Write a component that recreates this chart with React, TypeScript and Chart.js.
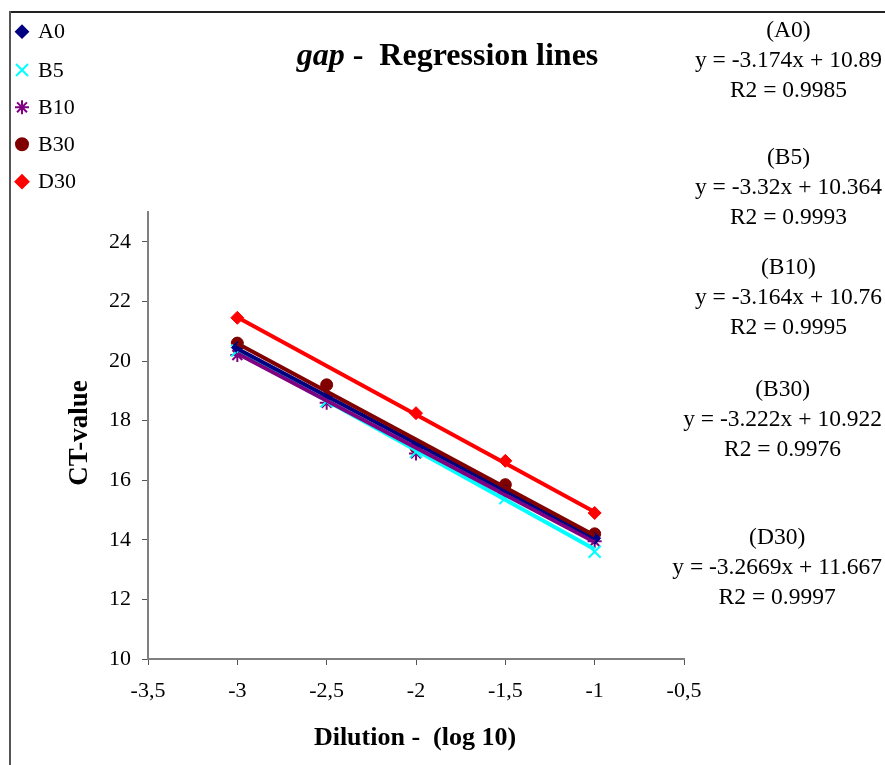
import React, { useEffect, useRef } from 'react';
import { Chart, registerables } from 'chart.js';
import { drawPoint } from 'chart.js/helpers';

Chart.register(...registerables);

// ---- data ----
const seriesNames = ['A0', 'B5', 'B10', 'B30', 'D30'];
const dilutions = [-3, -2.5, -2, -1.5, -1];
const ctA0 = [20.45, 18.8, 17.2, 15.65, 14.05];
const ctB5 = [20.35, 18.65, 16.95, 15.4, 13.6];
const ctB10 = [20.2, 18.6, 16.9, 15.55, 13.95];
const ctB30 = [20.6, 19.2, 17.1, 15.85, 14.2];
const ctD30 = [21.45, null, 18.25, 16.65, 14.9];
const slopes = [-3.174, -3.32, -3.164, -3.222, -3.2669];
const intercepts = [10.89, 10.364, 10.76, 10.922, 11.667];
const r2Values = ['0.9985', '0.9993', '0.9995', '0.9976', '0.9997'];
const xMin = -3.5, xMax = -0.5, xStep = 0.5;
const yMin = 10, yMax = 25, yStep = 2;

const titleItalic = 'gap';
const titleRest = ' -  Regression lines';
const xTitle = 'Dilution -  (log 10)';
const yTitle = 'CT-value';

// ---- styles ----
const allCt = [ctA0, ctB5, ctB10, ctB30, ctD30];
const colors = ['#000080', '#00FFFF', '#800080', '#800000', '#FF0000'];
const markerStyles = ['rectRot', 'crossRot', 'star', 'circle', 'rectRot'];
const markerRadius = [6, 8.5, 7, 6, 6.5];
const FONT = "'Liberation Serif', 'Times New Roman', serif";

const overlayPlugin = {
  id: 'overlay',
  beforeDraw(chart: any) {
    const ctx = chart.ctx;
    ctx.save();
    ctx.fillStyle = '#ffffff';
    ctx.fillRect(0, 0, chart.width, chart.height);
    ctx.fillStyle = '#222';
    ctx.fillRect(9, 11, chart.width - 9, 2);
    ctx.fillStyle = '#555';
    ctx.fillRect(9, 11, 2, chart.height - 11);
    ctx.restore();
  },
  afterDraw(chart: any) {
    const ctx = chart.ctx;
    ctx.save();
    ctx.fillStyle = '#000';
    ctx.textBaseline = 'middle';

    // title
    ctx.font = `italic bold 32px ${FONT}`;
    const w1 = ctx.measureText(titleItalic).width;
    ctx.font = `bold 32px ${FONT}`;
    const w2 = ctx.measureText(titleRest).width;
    const tx = 447.5 - (w1 + w2) / 2;
    ctx.textAlign = 'left';
    ctx.font = `italic bold 32px ${FONT}`;
    ctx.fillText(titleItalic, tx, 57);
    ctx.font = `bold 32px ${FONT}`;
    ctx.fillText(titleRest, tx + w1, 57);

    // axis titles
    ctx.font = `bold 26px ${FONT}`;
    ctx.textAlign = 'center';
    ctx.fillText(xTitle, 415, 738);
    ctx.save();
    ctx.translate(80, 433);
    ctx.rotate(-Math.PI / 2);
    ctx.font = `bold 27px ${FONT}`;
    ctx.fillText(yTitle, 0, 0);
    ctx.restore();

    // legend
    const legendY = [31.7, 70, 107.3, 144.3, 181.7];
    ctx.font = `22px ${FONT}`;
    ctx.textAlign = 'left';
    seriesNames.forEach((name, i) => {
      ctx.fillStyle = colors[i];
      ctx.strokeStyle = colors[i];
      ctx.lineWidth = 2;
      drawPoint(ctx, { pointStyle: markerStyles[i], radius: markerRadius[i], rotation: 0, borderWidth: 2 } as any, 22, legendY[i]);
      ctx.fillStyle = '#000';
      ctx.fillText(name, 38, legendY[i] + 1);
    });

    // regression equations
    const blockY = [31, 158, 268, 390, 538];
    const lineGap = 30;
    const rightEdge = 882;
    ctx.font = `23.5px ${FONT}`;
    ctx.textAlign = 'center';
    ctx.fillStyle = '#000';
    seriesNames.forEach((name, i) => {
      const lines = [
        `(${name})`,
        `y = ${slopes[i]}x + ${intercepts[i]}`,
        `R2 = ${r2Values[i]}`,
      ];
      const maxW = Math.max(...lines.map((l) => ctx.measureText(l).width));
      const cx = rightEdge - maxW / 2;
      lines.forEach((l, j) => ctx.fillText(l, cx, blockY[i] + j * lineGap));
    });
    ctx.restore();
  },
};

export default function App() {
  const canvasRef = useRef<HTMLCanvasElement | null>(null);

  useEffect(() => {
    if (!canvasRef.current) return;
    const markerSets = seriesNames.map((name, i) => ({
      label: name,
      data: dilutions
        .map((x, k) => ({ x, y: allCt[i][k] }))
        .filter((p) => p.y !== null),
      showLine: false,
      pointStyle: markerStyles[i],
      pointRadius: markerRadius[i],
      pointBackgroundColor: colors[i],
      pointBorderColor: colors[i],
      pointBorderWidth: markerStyles[i] === 'crossRot' || markerStyles[i] === 'star' ? 2 : 1,
      borderColor: colors[i],
      backgroundColor: colors[i],
      order: 20 + i,
    }));
    const lineOrder = [4, 6, 5, 3, 1];
    const trendSets = seriesNames.map((name, i) => {
      const x0 = dilutions[0];
      const x1 = dilutions[dilutions.length - 1];
      return {
        label: name + ' trend',
        data: [
          { x: x0, y: slopes[i] * x0 + intercepts[i] },
          { x: x1, y: slopes[i] * x1 + intercepts[i] },
        ],
        showLine: true,
        pointRadius: 0,
        borderColor: colors[i],
        backgroundColor: colors[i],
        borderWidth: 4,
        order: lineOrder[i],
      };
    });

    const chart = new Chart(canvasRef.current, {
      type: 'scatter',
      data: { datasets: [...markerSets, ...trendSets] as any },
      options: {
        animation: false,
        responsive: false,
        maintainAspectRatio: false,
        layout: { padding: { left: 0, top: 212, right: 201, bottom: 0 } },
        plugins: {
          legend: { display: false },
          title: { display: false },
          tooltip: { enabled: false },
        },
        scales: {
          x: {
            type: 'linear',
            min: xMin,
            max: xMax,
            ticks: {
              stepSize: xStep,
              color: '#000',
              font: { family: FONT, size: 22 },
              padding: 13,
              maxRotation: 0,
              callback: (v: any) => String(Math.round(Number(v) * 10) / 10).replace('.', ','),
            },
            grid: { drawOnChartArea: false, drawTicks: true, tickLength: 6, color: '#555' },
            border: { color: '#808080', width: 2 },
            afterFit: (s: any) => { s.height = 106; },
          },
          y: {
            type: 'linear',
            min: yMin,
            max: yMax,
            ticks: {
              stepSize: yStep,
              color: '#000',
              font: { family: FONT, size: 22 },
              padding: 11,
            },
            afterBuildTicks: (s: any) => {
              s.ticks = s.ticks.filter((t: any) => t.value !== yMax);
            },
            grid: { drawOnChartArea: false, drawTicks: true, tickLength: 6, color: '#555' },
            border: { color: '#808080', width: 2 },
            afterFit: (s: any) => { s.width = 148; },
          },
        },
      },
      plugins: [overlayPlugin],
    });
    return () => chart.destroy();
  }, []);

  return (
    <div style={{ position: 'absolute', left: 0, top: 0, width: 885, height: 765, background: '#fff' }}>
      <canvas ref={canvasRef} width={885} height={765} style={{ width: 885, height: 765 }} />
    </div>
  );
}
